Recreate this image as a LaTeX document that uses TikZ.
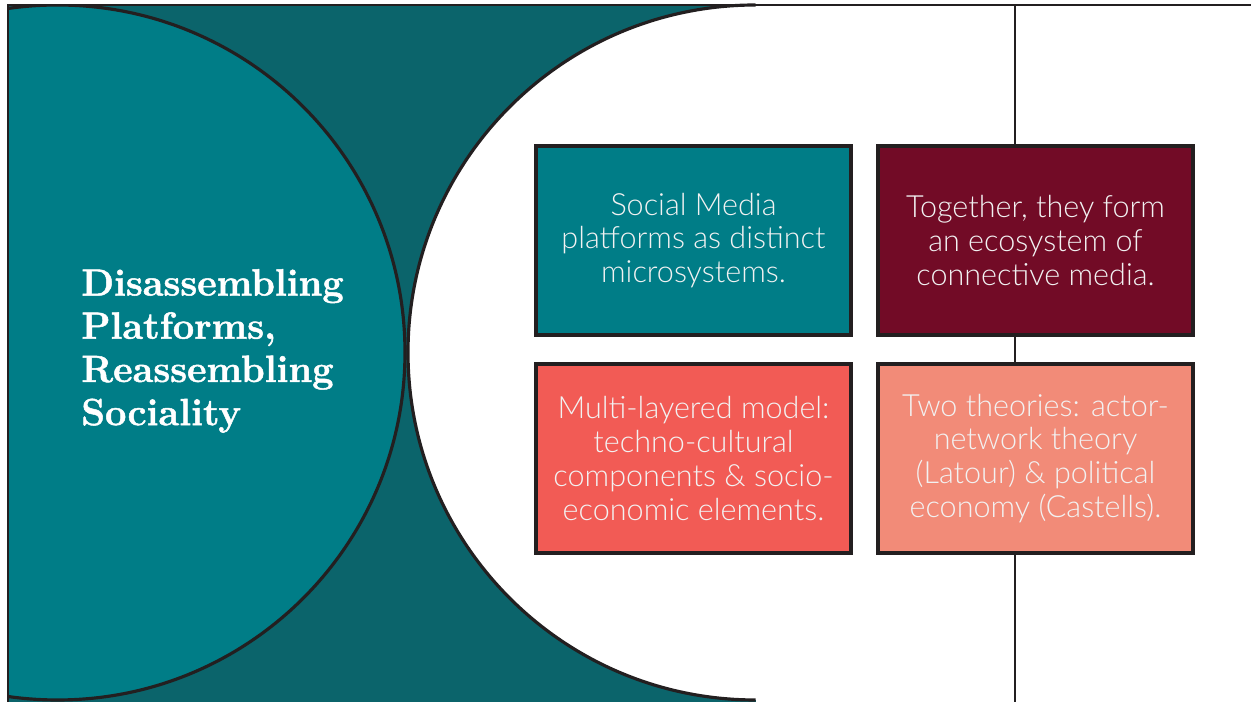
\documentclass[tikz,border=0pt]{standalone}
\usepackage{fontspec}
\newfontfamily\cajafont{Lato Light}
\newfontfamily\titulofont{Latin Modern Roman}[BoldFeatures={FakeBold=1.3}]

\begin{document}
\begin{tikzpicture}[x=0.02cm,y=0.02cm,
    caja/.style={draw=lineacolor,line width=1.8pt,minimum width=6.3cm,minimum height=3.78cm,
      inner sep=0pt,align=center,text=textocolor,font=\cajafont\fontsize{17.4}{19.3}\selectfont}]
    % Colores
    \definecolor{fondocolor}{RGB}{11,100,107}
    \definecolor{tealcolor}{RGB}{0,125,135}
    \definecolor{granatecolor}{RGB}{114,11,38}
    \definecolor{coralcolor}{RGB}{242,91,85}
    \definecolor{salmoncolor}{RGB}{242,139,120}
    \definecolor{lineacolor}{RGB}{35,31,32}
    \colorlet{textocolor}{white!95!black}

    \useasboundingbox (0,0) rectangle (1251,702);

    % Fondo oscuro
    \fill[fondocolor] (8,0) rectangle (1251,697);

    % Zona blanca (semicirculo + rectangulo)
    \fill[white] (755.5,349.5) circle (347.5);
    \fill[white] (755.5,0) rectangle (1251,697);
    \draw[lineacolor,line width=1.8pt] (755.5,697) arc (90:270:347.5);

    % Circulo izquierdo
    \begin{scope}
        \clip (8,0) rectangle (1251,697);
        \fill[tealcolor] (57.5,349.5) circle (347.5);
        \draw[lineacolor,line width=1.8pt] (57.5,349.5) circle (347.5);
    \end{scope}

    % Linea vertical
    \draw[lineacolor,line width=1.6pt] (1015,0) -- (1015,697);

    % Marco
    \draw[lineacolor,line width=1.2pt] (8,0) -- (8,697) -- (1251,697);

    % Titulo
    \node[anchor=west,align=left,inner sep=0pt,text=white,
          font=\titulofont\bfseries\fontsize{21.6}{24.6}\selectfont] (titulo) at (81,351)
        {Disassembling\\Platforms,\\Reassembling\\Sociality};

    % Cajas
    \node[caja,fill=tealcolor] (micro) at (693.5,461.5)
        {Social Media\\platforms as distinct\\microsystems.};
    \node[caja,fill=granatecolor] (ecosistema) at (1035.5,461.5)
        {Together, they form\\an ecosystem of\\connective media.};
    \node[caja,fill=coralcolor] (modelo) at (693.5,243.5)
        {Multi-layered model:\\techno-cultural\\components \& socio-\\economic elements.};
    \node[caja,fill=salmoncolor] (teorias) at (1035.5,243.5)
        {Two theories: actor-\\network theory\\(Latour) \& political\\economy (Castells).};

\end{tikzpicture}
\end{document}
